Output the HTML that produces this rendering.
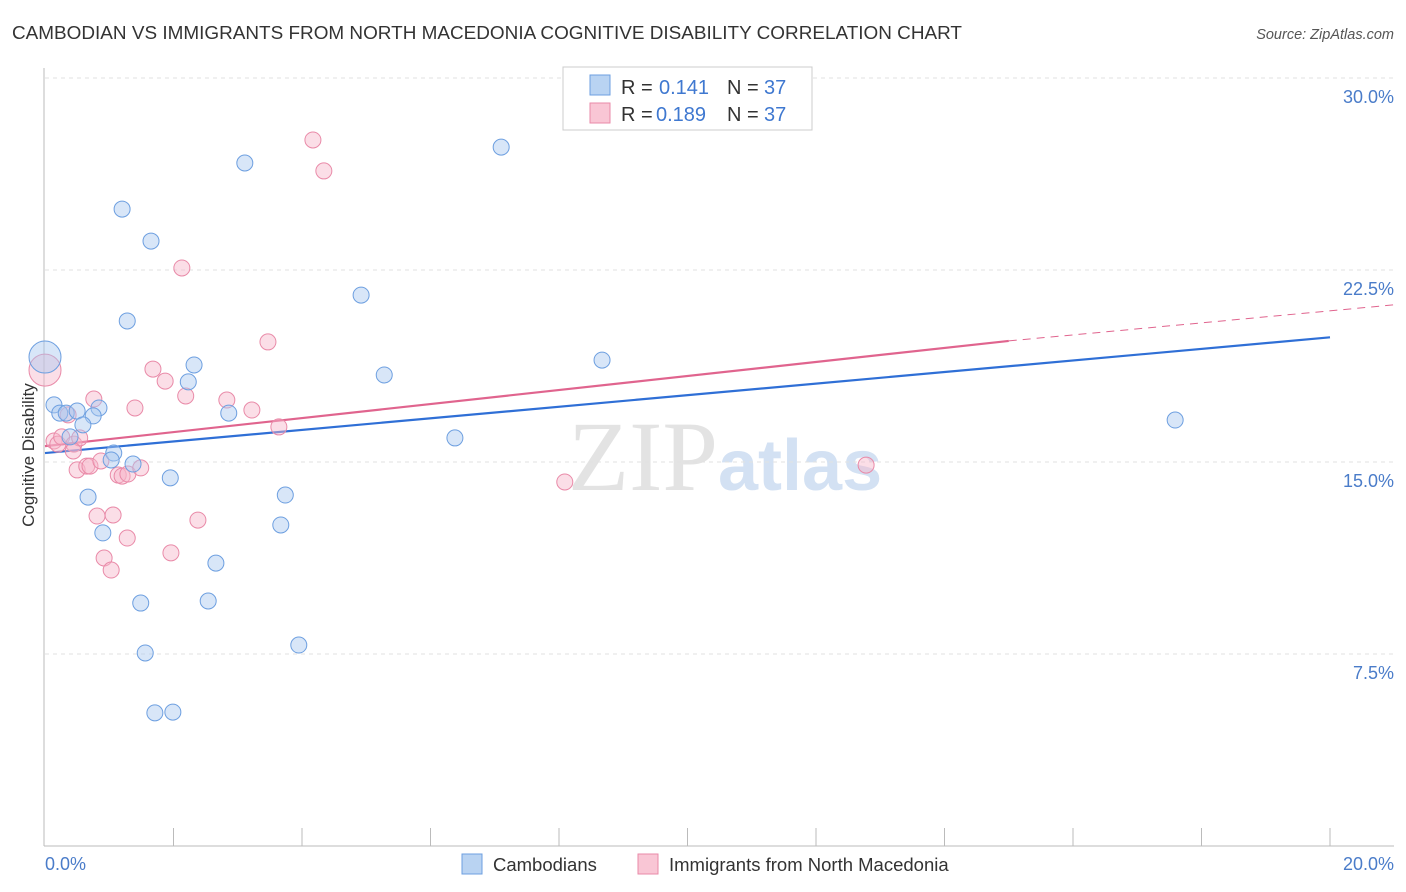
<!DOCTYPE html>
<html><head><meta charset="utf-8"><style>
body{margin:0;background:#fff;font-family:"Liberation Sans",sans-serif}
svg{display:block}
</style></head><body>
<svg id="chart" width="1406" height="892">
<text x="12" y="39" font-size="18" fill="#333" textLength="950" lengthAdjust="spacingAndGlyphs">CAMBODIAN VS IMMIGRANTS FROM NORTH MACEDONIA COGNITIVE DISABILITY CORRELATION CHART</text>
<text x="1394" y="39" font-size="14.5" fill="#555" font-style="italic" text-anchor="end">Source: ZipAtlas.com</text>
<text x="718" y="490" font-size="100" fill="#e3e3e3" text-anchor="end" font-family="Liberation Serif,serif">ZIP</text>
<text x="718" y="490" font-size="72" fill="#d3e1f3" font-weight="bold">atlas</text>
<g id="grid"></g><g id="axes"></g><g id="lines"></g><g id="pts"></g>
<text transform="translate(34,455) rotate(-90)" font-size="17" fill="#333" text-anchor="middle">Cognitive Disability</text>
<text x="45" y="870" font-size="18" fill="#4a7cc9">0.0%</text>
<text x="1394" y="870" font-size="18" fill="#4a7cc9" text-anchor="end">20.0%</text>
<g>
<rect x="563" y="67" width="249" height="63" fill="#fff" stroke="#ccc"/>
<rect x="590" y="75" width="20" height="20" fill="#b9d3f2" stroke="#6d9fe0"/>
<rect x="590" y="103" width="20" height="20" fill="#f9c6d5" stroke="#e98aa8"/>
<text y="94" font-size="20" fill="#333"><tspan x="621">R =</tspan><tspan x="659" fill="#3f78d0">0.141</tspan><tspan x="727">N =</tspan><tspan x="764" fill="#3f78d0">37</tspan></text>
<text y="121" font-size="20" fill="#333"><tspan x="621">R =</tspan><tspan x="656" fill="#3f78d0">0.189</tspan><tspan x="727">N =</tspan><tspan x="764" fill="#3f78d0">37</tspan></text>
</g>
<g>
<rect x="462" y="854" width="20" height="20" fill="#b9d3f2" stroke="#6d9fe0"/>
<text x="493" y="871" font-size="18.5" fill="#333">Cambodians</text>
<rect x="638" y="854" width="20" height="20" fill="#f9c6d5" stroke="#e98aa8"/>
<text x="669" y="871" font-size="18.5" fill="#333">Immigrants from North Macedonia</text>
</g>
</svg>
<script>
const yTicks=[7.5,15,22.5,30];
const yTickLabels=["7.5%","15.0%","22.5%","30.0%"];
const blueX=[0.0,0.14,0.23,0.33,0.50,0.84,0.75,0.59,0.39,1.07,1.03,1.37,0.67,0.90,1.20,1.65,1.28,2.32,2.23,1.95,1.49,1.56,1.71,1.99,2.54,2.66,2.86,3.11,3.74,3.67,3.95,4.92,5.28,6.38,7.10,8.67,17.59];
const blueY=[19.1,17.23,16.91,16.91,16.99,17.11,16.80,16.45,15.98,15.35,15.08,14.92,13.63,12.23,24.88,23.63,20.51,18.79,18.13,14.38,9.49,7.54,5.20,5.23,9.57,11.05,16.91,26.68,13.71,12.54,7.85,21.52,18.40,15.94,27.30,18.98,16.64];
const pinkX=[0.0,0.14,0.2,0.26,0.36,0.45,0.54,0.44,0.50,0.65,0.70,0.76,0.81,0.87,0.92,1.03,1.06,1.28,1.14,1.20,1.29,1.49,1.40,1.68,1.87,1.96,2.13,2.19,2.38,2.83,3.22,3.47,3.64,4.17,4.34,8.09,12.78];
const pinkY=[18.59,15.82,15.7,15.98,16.84,15.70,15.94,15.43,14.69,14.84,14.84,17.46,12.89,15.04,11.25,10.78,12.93,12.03,14.49,14.45,14.53,14.77,17.11,18.63,18.16,11.45,22.58,17.58,12.73,17.42,17.03,19.69,16.37,27.58,26.37,14.22,14.88];
const blueTrend=[15.35,19.87];
const pinkTrend=[15.62,19.73,21.14];
const sx=v=>45+v*64.25, sy=v=>846-v*25.6;
const NS="http://www.w3.org/2000/svg";
function mk(p,t,a){const e=document.createElementNS(NS,t);for(const k in a)e.setAttribute(k,a[k]);document.getElementById(p).appendChild(e);return e;}
yTicks.forEach((t,i)=>{
 const l=mk('grid','line',{x1:45,x2:1394,y1:sy(t),y2:sy(t),stroke:'#e2e2e2','stroke-dasharray':'4,4'});
 
 
 const tx=mk('grid','text',{x:1394,y:sy(t)+25,'font-size':18,fill:'#4a7cc9','text-anchor':'end'});
 tx.textContent=yTickLabels[i];
 
 
});
const ax=mk('axes','line',{x1:44,x2:44,y1:68,y2:846,stroke:'#bbb'});


const bx=mk('axes','line',{x1:44,x2:1394,y1:846,y2:846,stroke:'#bbb'});


for(let i=1;i<=10;i++){const t=mk('axes','line',{x1:sx(i*2),x2:sx(i*2),y1:828,y2:846,stroke:'#bbb'});
 
 }
let l1=mk('lines','line',{x1:sx(0),y1:sy(blueTrend[0]),x2:sx(20),y2:sy(blueTrend[1]),stroke:'#2f6fd6','stroke-width':2.2});


let l2=mk('lines','line',{x1:sx(0),y1:sy(pinkTrend[0]),x2:sx(15),y2:sy(pinkTrend[1]),stroke:'#e0648e','stroke-width':2.2});


let l3=mk('lines','line',{x1:sx(15),y1:sy(pinkTrend[1]),x2:sx(21),y2:sy(pinkTrend[2]),stroke:'#e0648e','stroke-width':1,'stroke-dasharray':'8,6'});


function pts(X,Y,fill,stroke,name){X.forEach((x,i)=>{const c=mk('pts','circle',{cx:sx(x),cy:sy(Y[i]),r:i==0?16:8,fill:fill,'fill-opacity':0.45,stroke:stroke,'stroke-width':1});
 
 });}
pts(pinkX,pinkY,'#f6b5c9','#e98aa8','macedonia-point');
pts(blueX,blueY,'#a9c8ef','#6d9fe0','cambodian-point');
</script>
</body></html>
